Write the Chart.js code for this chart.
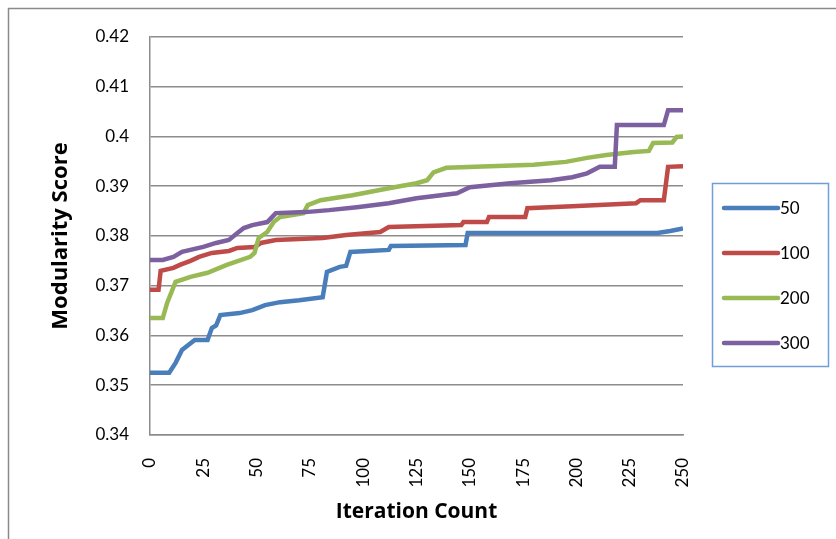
<!DOCTYPE html>
<html>
<head>
<meta charset="utf-8">
<script src="https://cdn.jsdelivr.net/npm/chart.js@4.4.1/dist/chart.umd.min.js"></script>
<style>
  html, body { margin: 0; padding: 0; background: #fff; }
</style>
</head>
<body>
<canvas id="chart" width="836" height="539"></canvas>
<script>
// series labels and colours
const seriesLabels = ['50', '100', '200', '300'];
const seriesColors = ['#4a7ebb', '#be4b48', '#98b954', '#7d60a0'];

// step curves (iteration, modularity)
const s50X = [0, 9, 12, 15, 21, 27, 29, 31, 33, 42, 48, 54, 61, 70, 81, 83, 89, 92, 94, 112, 113, 148, 149, 238, 244, 250];
const s50Y = [0.3525, 0.3525, 0.3545, 0.3571, 0.3591, 0.3591, 0.3615, 0.3620, 0.3641, 0.3645, 0.3651, 0.3661, 0.3667, 0.3671, 0.3677, 0.3728, 0.3738, 0.3740, 0.3768, 0.3772, 0.3780, 0.3782, 0.3806, 0.3806, 0.3810, 0.3815];

const s100X = [0, 4, 5, 11, 14, 19, 23, 29, 37, 41, 49, 52, 59, 81, 92, 108, 112, 146, 147, 158, 159, 176, 177, 198, 228, 230, 241, 243, 250];
const s100Y = [0.3692, 0.3692, 0.3730, 0.3736, 0.3742, 0.3750, 0.3758, 0.3766, 0.3770, 0.3776, 0.3778, 0.3786, 0.3792, 0.3796, 0.3802, 0.3808, 0.3818, 0.3822, 0.3828, 0.3828, 0.3838, 0.3838, 0.3856, 0.3860, 0.3866, 0.3872, 0.3872, 0.3939, 0.3940];

const s200X = [0, 6, 8, 12, 19, 27, 36, 47, 49, 51, 55, 58, 61, 72, 74, 80, 95, 112, 125, 130, 133, 139, 180, 195, 205, 214, 227, 234, 236, 245, 247, 250];
const s200Y = [0.3635, 0.3635, 0.3665, 0.3708, 0.3718, 0.3726, 0.3742, 0.3758, 0.3766, 0.3796, 0.3808, 0.3828, 0.3838, 0.3846, 0.3862, 0.3872, 0.3882, 0.3896, 0.3906, 0.3912, 0.3928, 0.3937, 0.3943, 0.3949, 0.3957, 0.3963, 0.3969, 0.3971, 0.3987, 0.3988, 0.3999, 0.4000];

const s300X = [0, 6, 11, 15, 25, 31, 37, 41, 44, 48, 55, 59, 73, 84, 97, 112, 125, 144, 150, 169, 188, 198, 205, 211, 218, 219, 241, 243, 250];
const s300Y = [0.3752, 0.3752, 0.3758, 0.3768, 0.3778, 0.3786, 0.3792, 0.3806, 0.3816, 0.3822, 0.3828, 0.3846, 0.3848, 0.3852, 0.3858, 0.3866, 0.3876, 0.3886, 0.3898, 0.3906, 0.3912, 0.3918, 0.3926, 0.3939, 0.3939, 0.4023, 0.4023, 0.4053, 0.4053];

const seriesX = [s50X, s100X, s200X, s300X];
const seriesY = [s50Y, s100Y, s200Y, s300Y];

const FONT = 'Lato, "Open Sans", sans-serif';
const TITLE_FONT = '"Open Sans", Lato, sans-serif';

// outer frame and the boxed legend on the right
const extras = {
  id: 'extras',
  beforeDraw(chart) {
    const c = chart.ctx;
    c.save();
    c.strokeStyle = '#8a8a8a';
    c.lineWidth = 1.5;
    c.strokeRect(8.5, 8.5, 900, 600);
    c.restore();
  },
  afterDraw(chart) {
    const c = chart.ctx;
    c.save();
    c.strokeStyle = '#6f9fd8';
    c.lineWidth = 1.5;
    c.strokeRect(712.5, 183.5, 116, 183);
    c.font = '17px ' + FONT;
    c.fillStyle = '#000';
    c.textBaseline = 'middle';
    c.lineCap = 'round';
    chart.data.datasets.forEach((ds, i) => {
      const y = 208 + i * 45;
      c.strokeStyle = ds.borderColor;
      c.lineWidth = 4.5;
      c.beginPath();
      c.moveTo(724, y);
      c.lineTo(778, y);
      c.stroke();
      c.fillText(ds.label, 780, y + 1);
    });
    c.restore();
  }
};

new Chart(document.getElementById('chart').getContext('2d'), {
  type: 'line',
  data: {
    datasets: seriesLabels.map((label, i) => ({
      label: label,
      data: seriesX[i].map((x, j) => ({ x: x, y: seriesY[i][j] })),
      borderColor: seriesColors[i],
      backgroundColor: seriesColors[i],
      borderWidth: 4.5,
      pointRadius: 0,
      tension: 0,
      fill: false,
      order: 4 - i
    }))
  },
  options: {
    responsive: false,
    animation: false,
    layout: { padding: { left: 48, right: 153, top: 37, bottom: 10 } },
    plugins: {
      legend: { display: false },
      tooltip: { enabled: false }
    },
    scales: {
      x: {
        type: 'linear',
        min: 0,
        max: 250,
        afterFit(scale) { scale.height = 94; },
        ticks: {
          stepSize: 25,
          minRotation: 90,
          maxRotation: 90,
          padding: 15,
          color: '#000',
          font: { family: FONT, size: 17 }
        },
        grid: { display: false },
        border: { display: true, color: '#8c8c8c', width: 1.5 },
        title: {
          display: true,
          text: 'Iteration Count',
          color: '#000',
          padding: { top: 0, bottom: 4 },
          font: { family: TITLE_FONT, size: 21, weight: 'bold' }
        }
      },
      y: {
        min: 0.34,
        max: 0.42,
        afterFit(scale) { scale.width = 102; },
        ticks: {
          stepSize: 0.01,
          padding: 21,
          color: '#000',
          font: { family: FONT, size: 17 },
          callback: v => String(+v.toFixed(2))
        },
        grid: { color: '#8c8c8c', lineWidth: 1.5, drawTicks: false },
        border: { display: true, color: '#8c8c8c', width: 1.5 },
        title: {
          display: true,
          text: 'Modularity Score',
          color: '#000',
          padding: { top: 0, bottom: 0 },
          font: { family: TITLE_FONT, size: 22, weight: 'bold' }
        }
      }
    }
  },
  plugins: [extras]
});
</script>
</body>
</html>
